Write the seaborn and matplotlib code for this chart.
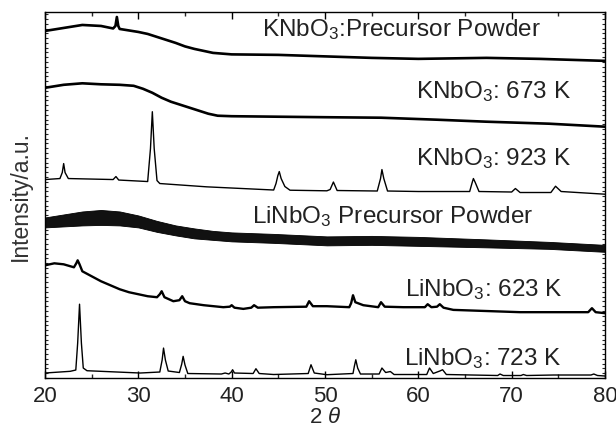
import matplotlib
matplotlib.use("Agg")
import matplotlib.pyplot as plt
from matplotlib.ticker import MultipleLocator, NullFormatter
import seaborn as sns
import pandas as pd

# KNbO3 precursor powder (2theta, intensity in arbitrary units)
kp_x = [20, 22, 24, 26, 27.3, 27.55, 27.7, 27.85, 28.0, 30, 31, 32, 33, 34, 35,
        36, 37, 38, 40, 45, 50, 55, 60, 67.3, 73, 80]
kp_y = [348, 351, 354, 353, 350.5, 353, 362, 353, 350, 347, 345, 342, 339, 336, 332.5,
        330, 328, 326, 324.5, 324, 322.5, 321, 320, 321, 320, 318]

# KNbO3 673 K
k673_x = [20, 22, 24, 26, 28, 29.5, 30.5, 31.5, 32.5, 33.5, 34.5, 35.5, 36.5, 37.5,
          38.5, 40, 45, 50, 56, 62, 67.3, 74, 80]
k673_y = [291, 294, 295.5, 294.5, 294, 293, 290, 286, 281, 277, 274, 271, 268, 265,
          263, 262.5, 262, 261.5, 261, 259, 257, 255, 252]

# KNbO3 923 K
k923_x = [20, 21.6, 21.85, 22.0, 22.15, 22.5, 27.3, 27.6, 27.9, 31.0, 31.3, 31.5,
          31.7, 32.0, 32.3, 37.3, 44.5, 44.75, 44.95, 45.1, 45.3, 45.7, 46.25, 50.2,
          50.55, 50.9, 51.3, 55.6, 55.95, 56.1, 56.3, 56.7, 60, 65.5, 65.8, 65.9,
          66.1, 66.5, 70.0, 70.4, 70.9, 74.2, 74.7, 75.3, 80]
k923_y = [199, 200, 206, 215, 206, 200, 199, 202, 198.5, 197, 230, 267,
          230, 198, 195, 191.7, 188.5, 195, 203, 207, 200, 192, 188.3, 187.7,
          189, 196.5, 188, 187.5, 200, 209, 200, 187.5, 187, 187, 197, 200,
          196, 187, 186.5, 190, 186, 186, 192.3, 187, 184.3]

# LiNbO3 precursor powder: noisy band, centre and half width
lp_x = [20, 22, 24, 26, 28, 30, 32, 34, 36, 38, 40, 44.5, 50.2, 55, 60, 67.3, 74, 80]
lp_mid = [156, 158, 160, 161, 160, 157, 152, 148, 145, 143, 141.5, 140, 137.5, 138,
          137, 135, 133, 130]
lp_half = [5, 6, 7, 7.5, 7, 6, 5.5, 5, 5, 4.5, 4.5, 4.5, 4.5, 4.5, 4.5, 4, 3.5, 3.5]

# LiNbO3 623 K
l623_x = [20, 21, 22, 23.1, 23.35, 23.5, 23.7, 24.0, 25, 26, 27, 28, 29, 30, 31,
          32.0, 32.3, 32.5, 32.8, 33.75, 34.4, 34.7, 35.0, 35.5, 37, 39.1, 39.8,
          40.0, 40.3, 41.25, 42.1, 42.4, 42.8, 44.5, 48.0, 48.3, 48.7, 50.2, 52.6,
          52.8, 53.0, 53.25, 54.1, 55.7, 56.0, 56.4, 58.4, 60.7, 61.0, 61.4, 62.0,
          62.3, 62.7, 63.75, 70.9, 78.2, 78.6, 79.0, 80]
l623_y = [113, 115, 114, 111, 115, 118, 114, 107, 102, 97, 93, 89, 86, 84, 82,
          81, 84, 87, 81, 77, 78, 82, 77, 75, 73, 71, 71.5,
          73, 70.5, 69.3, 70.5, 73, 70.5, 71, 71.5, 77, 72, 72, 71,
          75, 83, 76, 73, 71, 76, 71.5, 71, 71, 74, 71, 71.5,
          74, 70.5, 68.3, 66, 66, 70, 66, 65]

# LiNbO3 723 K
l723_x = [20, 22.7, 23.3, 23.5, 23.7, 23.9, 24.1, 24.5, 30.2, 32.3, 32.55, 32.7,
          32.9, 33.2, 34.4, 34.65, 34.8, 35.0, 35.3, 38.9, 39.3, 39.7, 39.95, 40.1,
          40.3, 42.3, 42.6, 42.95, 44.5, 48.2, 48.5, 48.85, 50.2, 53.0, 53.15, 53.3,
          53.5, 53.8, 55.8, 56.1, 56.5, 57.0, 57.4, 60.9, 61.2, 61.6, 62.3, 62.6,
          63.0, 68.5, 68.75, 69.1, 71.0, 71.25, 71.6, 74.5, 78.5, 78.8, 79.2, 80]
l723_y = [5, 6.7, 8, 35, 74, 35, 10, 7.3, 5, 6, 18, 30,
          18, 7, 5.5, 14, 21.7, 13, 4.5, 4, 5, 4, 6, 8.3,
          5, 4.5, 9.3, 4.5, 3.5, 4.5, 13.3, 5, 3.3, 4.5, 12, 18.3,
          10, 4, 4, 10, 5.5, 6.5, 3.5, 3.5, 10, 4.5, 7, 8.3,
          3.5, 2.5, 4, 2.5, 2.5, 3.5, 2.5, 3, 3, 4, 2.5, 2]

labels = ["KNbO$_3$:Precursor Powder", "KNbO$_3$: 673 K", "KNbO$_3$: 923 K",
          "LiNbO$_3$ Precursor Powder", "LiNbO$_3$: 623 K", "LiNbO$_3$: 723 K"]
label_x = [43.2, 59.7, 59.7, 42.2, 58.6, 58.5]
label_y = [344, 282, 214, 156, 83, 14]

sns.set_theme(style="ticks")
plt.rcParams["font.family"] = ["Liberation Sans", "DejaVu Sans"]
plt.rcParams["mathtext.fontset"] = "custom"
plt.rcParams["mathtext.rm"] = "Liberation Sans"
plt.rcParams["mathtext.it"] = "Liberation Sans:italic"
plt.rcParams["mathtext.default"] = "regular"

fig = plt.figure(figsize=(6.16, 4.31), dpi=100)
ax = fig.add_axes([45 / 616, 52 / 431, 560 / 616, 366 / 431])

traces = [(kp_x, kp_y, 1.9), (k673_x, k673_y, 1.9), (k923_x, k923_y, 1.0),
          (l623_x, l623_y, 1.7), (l723_x, l723_y, 1.0)]
for xs, ys, lw in traces:
    df = pd.DataFrame({"two_theta": xs, "intensity": ys})
    sns.lineplot(data=df, x="two_theta", y="intensity", ax=ax, color="black",
                 lw=lw, sort=False, estimator=None)

lp_lo = [m - h for m, h in zip(lp_mid, lp_half)]
lp_hi = [m + h for m, h in zip(lp_mid, lp_half)]
ax.fill_between(lp_x, lp_lo, lp_hi, color="#111111", lw=0.6, edgecolor="black")

for t, x, y in zip(labels, label_x, label_y):
    ax.text(x, y, t, fontsize=17.5, ha="left", va="baseline", color="#222222")

ax.set_xlim(20, 80)
ax.set_ylim(0, 367)
ax.xaxis.set_major_locator(MultipleLocator(10))
ax.xaxis.set_minor_locator(MultipleLocator(5))
ax.yaxis.set_major_locator(MultipleLocator(4.8))
ax.yaxis.set_major_formatter(NullFormatter())
ax.tick_params(axis="x", which="major", direction="in", length=5, width=1,
               top=True, labelsize=16, pad=5, colors="black")
ax.tick_params(axis="x", which="minor", direction="in", length=3, width=1, top=True)
ax.tick_params(axis="y", which="major", direction="in", length=2.5, width=0.8,
               left=True, right=True)
for s in ax.spines.values():
    s.set_linewidth(1.0)
    s.set_color("black")

ax.set_xlabel("2 $\\mathit{\\theta}$", fontsize=16, labelpad=0)
ax.set_ylabel("Intensity/a.u.", fontsize=16.5, labelpad=6, color="#333333")
ax.tick_params(labelcolor="#222222")

fig.savefig("out.png", dpi=100)
